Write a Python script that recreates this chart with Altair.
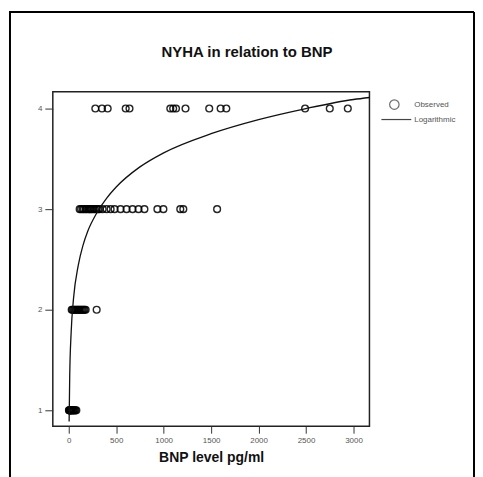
import altair as alt
import pandas as pd

# ---- data ----
title_text = ["NYHA in relation to BNP"]
x_title = "BNP level pg/ml"

nyha4_bnp = [280, 350, 410, 600, 640, 1070, 1100, 1130, 1230, 1480, 1600, 1660, 2490, 2750, 2940]
nyha3_bnp = [115, 130, 147, 160, 178, 190, 210, 220, 231, 245, 262, 275, 294, 310, 325, 357,
             399, 441, 483, 546, 609, 672, 735, 797, 934, 997, 1175, 1207, 1563]
nyha2_bnp = [31, 40, 52, 62, 73, 84, 94, 104, 115, 125, 136, 146, 157, 167, 178, 294]
nyha1_bnp = [2, 5, 10, 15, 20, 25, 30, 38, 45, 52, 60, 70, 80]

# logarithmic fit curve
curve_bnp = [4, 10, 25, 50, 100, 150, 200, 300, 400, 500, 750, 1000, 1500, 2000, 2500, 3000, 3170]
curve_nyha = [0.89, 1.33, 1.77, 2.11, 2.44, 2.64, 2.78, 2.97, 3.11, 3.22, 3.42, 3.56, 3.75,
              3.89, 4.00, 4.09, 4.11]

legend_labels = ["Observed", "Logarithmic"]
x_ticks = [0, 500, 1000, 1500, 2000, 2500, 3000]
y_ticks = [1, 2, 3, 4]

# ---- tables ----
obs = pd.DataFrame({
    "bnp": nyha1_bnp + nyha2_bnp + nyha3_bnp + nyha4_bnp,
    "nyha": [1] * len(nyha1_bnp) + [2] * len(nyha2_bnp) + [3] * len(nyha3_bnp) + [4] * len(nyha4_bnp),
})
curve = pd.DataFrame({"bnp": curve_bnp, "nyha": curve_nyha})
one = pd.DataFrame({"t": title_text})
leg_obs = pd.DataFrame({"label": [legend_labels[0]]})
leg_log = pd.DataFrame({"label": [legend_labels[1]]})

FONT = "Liberation Sans"
xscale = alt.Scale(domain=[-168, 3168], nice=False, zero=False)
yscale = alt.Scale(domain=[0.842, 4.168], nice=False, zero=False)

xaxis = alt.Axis(values=x_ticks, title=x_title, format="d", grid=False, domain=False,
                 tickSize=7, tickColor="#333", tickWidth=1,
                 labelFont=FONT, labelFontSize=8, labelColor="#555", labelPadding=3,
                 titleFont=FONT, titleFontSize=14, titleFontWeight="bold", titleColor="#111",
                 titlePadding=6)
yaxis = alt.Axis(values=y_ticks, title=None, format="d", grid=False, domain=False,
                 tickSize=8, tickColor="#333", tickWidth=1,
                 labelFont=FONT, labelFontSize=8, labelColor="#555", labelPadding=3)

points = alt.Chart(obs).mark_point(shape="circle", filled=False, color="black",
                                   size=46, strokeWidth=1.4, opacity=0.85).encode(
    x=alt.X("bnp:Q", scale=xscale, axis=xaxis),
    y=alt.Y("nyha:Q", scale=yscale, axis=yaxis),
)

line = alt.Chart(curve).mark_line(color="#111", strokeWidth=1.3, interpolate="monotone").encode(
    x=alt.X("bnp:Q", scale=xscale, axis=xaxis),
    y=alt.Y("nyha:Q", scale=yscale, axis=yaxis),
)

# outer picture frame (left, top, right)
frame_l = alt.Chart(one).mark_rule(color="black", strokeWidth=2).encode(
    x=alt.value(-43), y=alt.value(-80), y2=alt.value(387))
frame_t = alt.Chart(one).mark_rule(color="black", strokeWidth=2).encode(
    x=alt.value(-44), x2=alt.value(423), y=alt.value(-80))
frame_r = alt.Chart(one).mark_rule(color="black", strokeWidth=2).encode(
    x=alt.value(423), y=alt.value(-80), y2=alt.value(387))

title = alt.Chart(one).mark_text(font=FONT, fontSize=15, fontWeight="bold", color="#111",
                                 align="center", baseline="alphabetic").encode(
    x=alt.value(195), y=alt.value(-35), text="t:N")

# legend
leg_sym = alt.Chart(leg_obs).mark_point(shape="circle", filled=False, color="#333",
                                        size=90, strokeWidth=1.2).encode(
    x=alt.value(343), y=alt.value(13))
leg_line = alt.Chart(leg_log).mark_rule(color="#444", strokeWidth=1.2).encode(
    x=alt.value(330), x2=alt.value(360), y=alt.value(28))
leg_t1 = alt.Chart(leg_obs).mark_text(font=FONT, fontSize=8, color="#555", align="left",
                                      baseline="middle").encode(
    x=alt.value(363), y=alt.value(13), text="label:N")
leg_t2 = alt.Chart(leg_log).mark_text(font=FONT, fontSize=8, color="#555", align="left",
                                      baseline="middle").encode(
    x=alt.value(363), y=alt.value(28), text="label:N")

chart = alt.layer(points, line, frame_l, frame_t, frame_r, title,
                  leg_sym, leg_line, leg_t1, leg_t2).properties(
    width=318, height=336,
    padding={"left": 0, "top": 2, "right": 0, "bottom": 0},
    background="white",
).configure_view(stroke="#222", strokeWidth=1.5)

chart.save("out.html", embed_options={"renderer": "svg", "actions": False})
